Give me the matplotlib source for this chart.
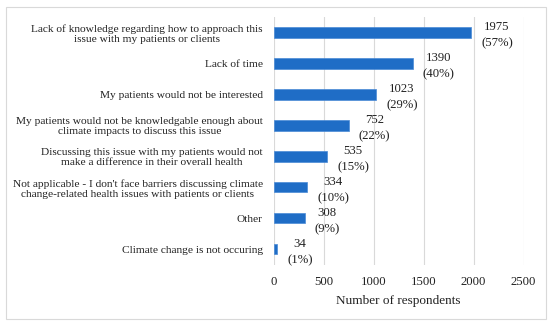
import matplotlib.pyplot as plt
from matplotlib.patches import Rectangle

categories = [
    "Lack of knowledge regarding how to approach this\nissue with my patients or clients",
    "Lack of time",
    "My patients would not be interested",
    "My patients would not be knowledgable enough about\nclimate impacts to discuss this issue",
    "Discussing this issue with my patients would not\nmake a difference in their overall health",
    "Not applicable - I don't face barriers discussing climate\nchange-related health issues with patients or clients",
    "Other",
    "Climate change is not occuring",
]
counts = [1975, 1390, 1023, 752, 535, 334, 308, 34]
percents = [57, 40, 29, 22, 15, 10, 9, 1]

plt.rcParams['font.family'] = ['Liberation Serif', 'DejaVu Serif']
plt.rcParams['font.size'] = 9

fig = plt.figure(figsize=(5.5, 3.25), dpi=100)
ax = fig.add_axes([0.498, 0.185, 0.454, 0.763])

y = list(range(len(categories)))
ax.barh(y, counts, height=0.33, color='#1f6dc6', edgecolor='#4a8ad6', linewidth=0.5, zorder=3)

for yi, c, p in zip(y, counts, percents):
    ax.text(c + 100, yi + 0.08, "{}\n({}%)".format(c, p), ha='left', va='center',
            multialignment='center', fontsize=9.2, linespacing=1.45, color='#222222',
            clip_on=False, zorder=4)

ax.set_xlim(0, 2500)
ax.set_ylim(len(categories) - 0.5, -0.5)
ax.set_xticks([0, 500, 1000, 1500, 2000, 2500])
ax.set_xticklabels(["0", "500", "1000", "1500", "2000", "2500"], fontsize=9.2, color='#222222')
ax.set_yticks(y)
ax.set_yticklabels(categories, multialignment='center', linespacing=1.15,
                   fontsize=8.2, color='#222222')
ax.tick_params(length=0)
ax.tick_params(axis='x', pad=8)
ax.tick_params(axis='y', pad=8)
ax.grid(axis='x', color='#d9d9d9', linewidth=0.8, zorder=0)
for s in ax.spines.values():
    s.set_visible(False)
ax.set_xlabel("Number of respondents", fontsize=9.5, color='#222222', labelpad=5)

fig.patches.append(Rectangle((0.01, 0.02), 0.983, 0.96, transform=fig.transFigure,
                             fill=False, edgecolor='#d9d9d9', linewidth=0.8))

fig.savefig("out.png", dpi=100)
